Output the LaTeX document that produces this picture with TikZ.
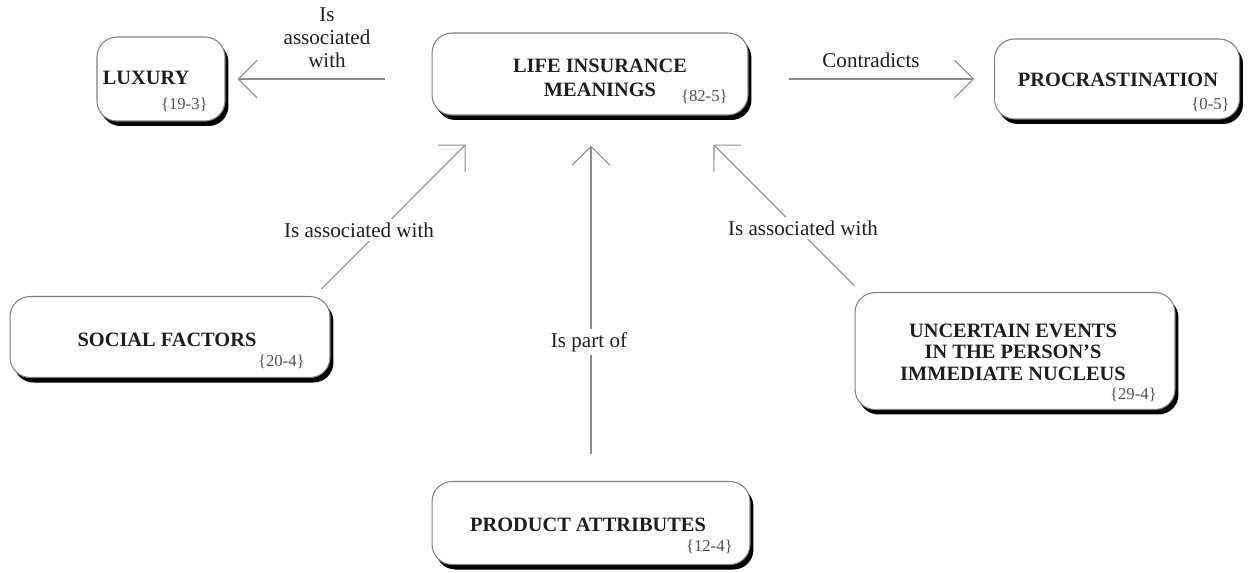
\documentclass[tikz,border=0pt]{standalone}
\usepackage{fontspec}
\setmainfont{Liberation Serif}
\usetikzlibrary{arrows.meta,shadows}

\definecolor{boxline}{HTML}{808080}
\definecolor{arrline}{HTML}{8C8C8C}
\definecolor{ink}{HTML}{1E1E1E}
\definecolor{numink}{HTML}{505050}

\begin{document}
\begin{tikzpicture}[x=0.02cm, y=-0.02cm,
    concept/.style={draw=boxline, line width=0.6pt, fill=white, rounded corners=0.4cm,
      drop shadow={shadow xshift=0.07cm, shadow yshift=-0.1cm, fill=black, opacity=1}},
    title/.style={font=\fontsize{11.6}{12.2}\selectfont\bfseries, text=ink, align=center, inner sep=0pt},
    num/.style={font=\fontsize{9.5}{11}\selectfont, text=numink, anchor=east, inner sep=0pt},
    rel/.style={font=\fontsize{12}{13}\selectfont, text=ink, align=center, fill=white, inner sep=2pt},
    conn/.style={draw=arrline, line width=0.6pt, -{Straight Barb[length=0.38cm, width=0.76cm, line width=0.6pt]}}]
  \useasboundingbox (0,0) rectangle (1250,572);

  % concept boxes
  \node[concept, minimum width=2.56cm, minimum height=1.68cm] (lux) at (161,79) {};
  \node[concept, minimum width=6.32cm, minimum height=1.64cm] (life) at (590,74) {};
  \node[concept, minimum width=4.9cm, minimum height=1.6cm] (proc) at (1117,79) {};
  \node[concept, minimum width=6.4cm, minimum height=1.62cm] (soc) at (170,337) {};
  \node[concept, minimum width=6.4cm, minimum height=2.34cm] (unc) at (1015,351) {};
  \node[concept, minimum width=6.36cm, minimum height=1.66cm] (prod) at (591,523) {};

  % box texts
  \node[title] (lux-t) at (146,78) {LUXURY};
  \node[title, font=\fontsize{11.6}{14}\selectfont\bfseries] (life-t) at (600,78) {LIFE INSURANCE\\MEANINGS};
  \node[title] (proc-t) at (1118,80) {PROCRASTINATION};
  \node[title] (soc-t) at (167,340) {SOCIAL FACTORS};
  \node[title] (unc-t) at (1013,352) {UNCERTAIN EVENTS\\IN THE PERSON’S\\IMMEDIATE NUCLEUS};
  \node[title] (prod-t) at (588,525) {PRODUCT ATTRIBUTES};

  % frequency counts
  \node[num] (lux-n) at (208,105) {\{19-3\}};
  \node[num] (life-n) at (728,97) {\{82-5\}};
  \node[num] (proc-n) at (1230,105) {\{0-5\}};
  \node[num] (soc-n) at (305,362) {\{20-4\}};
  \node[num] (unc-n) at (1157,395) {\{29-4\}};
  \node[num] (prod-n) at (733,547) {\{12-4\}};

  % relations
  \draw[conn, shorten <=0.94cm, shorten >=0.24cm] (life.west |- lux.east) -- (lux.east);
  \draw[conn, shorten <=0.8cm, shorten >=0.4cm] (life.east |- proc.west) -- (proc.west);
  \draw[conn, shorten <=0.2cm, shorten >=0.82cm] ([xshift=-0.32cm]soc.north east) -- ([xshift=1.26cm]life.south west);
  \draw[conn, shorten <=0.54cm, shorten >=0.6cm] (prod.north) -- (prod.north |- life.south);
  \draw[conn, shorten <=0.17cm, shorten >=0.82cm] ([xshift=0.12cm]unc.north west) -- ([xshift=-1.28cm]life.south east);

  % relation labels
  \node[rel, font=\fontsize{12}{13}\selectfont, fill=none] (lbl-lux) at (327,38) {Is\\associated\\with};
  \node[rel, fill=none] (lbl-proc) at (871,60) {Contradicts};
  \node[rel] (lbl-soc) at (359,230) {Is associated with};
  \node[rel] (lbl-prod) at (589,342) {Is part of};
  \node[rel] (lbl-unc) at (803,228) {Is associated with};
\end{tikzpicture}
\end{document}
